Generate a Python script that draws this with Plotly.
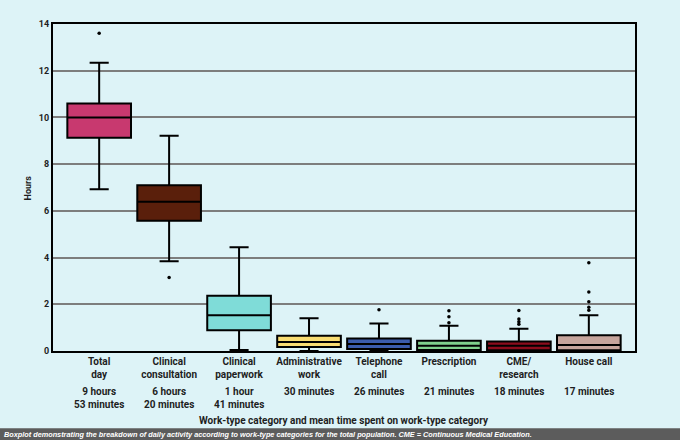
import plotly.graph_objects as go

# categories + box stats (hours)
categories = ["Total<br>day", "Clinical<br>consultation", "Clinical<br>paperwork",
              "Administrative<br>work", "Telephone<br>call", "Prescription",
              "CME/<br>research", "House call"]
mean_times = ["9 hours<br>53 minutes", "6 hours<br>20 minutes", "1 hour<br>41 minutes",
              "30 minutes", "26 minutes", "21 minutes", "18 minutes", "17 minutes"]
lower = [6.93, 3.84, 0.04, 0.0, 0.0, 0.0, 0.0, 0.0]
q1 = [9.13, 5.58, 0.89, 0.17, 0.09, 0.04, 0.03, 0.03]
median = [10.0, 6.39, 1.53, 0.38, 0.30, 0.23, 0.23, 0.26]
q3 = [10.6, 7.1, 2.37, 0.65, 0.53, 0.44, 0.41, 0.67]
upper = [12.34, 9.22, 4.44, 1.40, 1.18, 1.08, 0.95, 1.53]
colors = ["#c8396f", "#5a1f0b", "#7fdcd8", "#f8dc72", "#3b5cae", "#80d08c", "#8c0c1c", "#c6a49c"]

# outliers
out_cat = [0, 1, 4, 5, 5, 5, 6, 6, 6, 6, 7, 7, 7, 7, 7]
out_val = [13.6, 3.15, 1.77, 1.72, 1.47, 1.21, 1.73, 1.37, 1.25, 1.14, 3.78, 2.53, 2.11, 1.87, 1.75]

bg = "#ddf3f7"
fnt = "Roboto, Lato, sans-serif"

fig = go.Figure()
for i in range(len(categories)):
    fig.add_trace(go.Box(
        x=[categories[i]], q1=[q1[i]], median=[median[i]], q3=[q3[i]],
        lowerfence=[lower[i]], upperfence=[upper[i]],
        fillcolor=colors[i], line=dict(color="black", width=2),
        width=0.91, whiskerwidth=0.3, boxpoints=False, showlegend=False,
        hoverinfo="skip"))

fig.add_trace(go.Scatter(
    x=[categories[c] for c in out_cat], y=out_val, mode="markers",
    marker=dict(color="black", size=3.5), showlegend=False, hoverinfo="skip"))

for i in range(len(categories)):
    fig.add_annotation(x=categories[i], y=-0.1, xref="x", yref="paper",
                       text=mean_times[i], showarrow=False, yanchor="top",
                       font=dict(family=fnt, size=10, color="#1e1e1e", weight="bold"))

fig.add_annotation(x=0.5, y=-0.213, xref="paper", yref="paper",
                   text="Work-type category and mean time spent on work-type category",
                   showarrow=False, yanchor="middle",
                   font=dict(family=fnt, size=10, color="#1e1e1e", weight="bold"))
fig.add_annotation(x=-0.043, y=0.5, xref="paper", yref="paper", text="Hours",
                   textangle=-90, showarrow=False, xanchor="center",
                   font=dict(family=fnt, size=9, color="#1e1e1e", weight="bold"))

# caption bar
fig.add_shape(type="rect", xref="paper", yref="paper", x0=-0.1, x1=1.1,
              y0=-0.275, y1=-0.236, fillcolor="#5c5c5c", line=dict(width=0), layer="below")
fig.add_annotation(x=-0.087, y=-0.2555, xref="paper", yref="paper", xanchor="left",
                   yanchor="middle", showarrow=False,
                   text="<b><i>Boxplot demonstrating the breakdown of daily activity according to work-type categories for the total population. CME = Continuous Medical Education.</i></b>",
                   font=dict(family="Liberation Sans, Arial, sans-serif", size=7.3, color="white"))

fig.update_layout(
    width=680, height=440,
    margin=dict(l=53, r=45, t=24, b=89),
    paper_bgcolor=bg, plot_bgcolor=bg,
    font=dict(family=fnt, color="#1e1e1e"),
    boxmode="overlay",
)
fig.update_xaxes(type="category", range=[-0.66, 7.66], showgrid=False,
                 showline=True, linecolor="black", linewidth=2, mirror=True,
                 ticks="", tickfont=dict(family=fnt, size=10, weight="bold"))
fig.update_yaxes(range=[0, 14], dtick=2, showgrid=True, gridcolor="#7d7d7d", gridwidth=2,
                 zeroline=False, showline=True, linecolor="black", linewidth=2, mirror=True,
                 ticks="", tickfont=dict(family=fnt, size=9, weight="bold"))

fig.write_html("out.html", config={"displayModeBar": False},
               post_script="document.body.style.margin='0';")
